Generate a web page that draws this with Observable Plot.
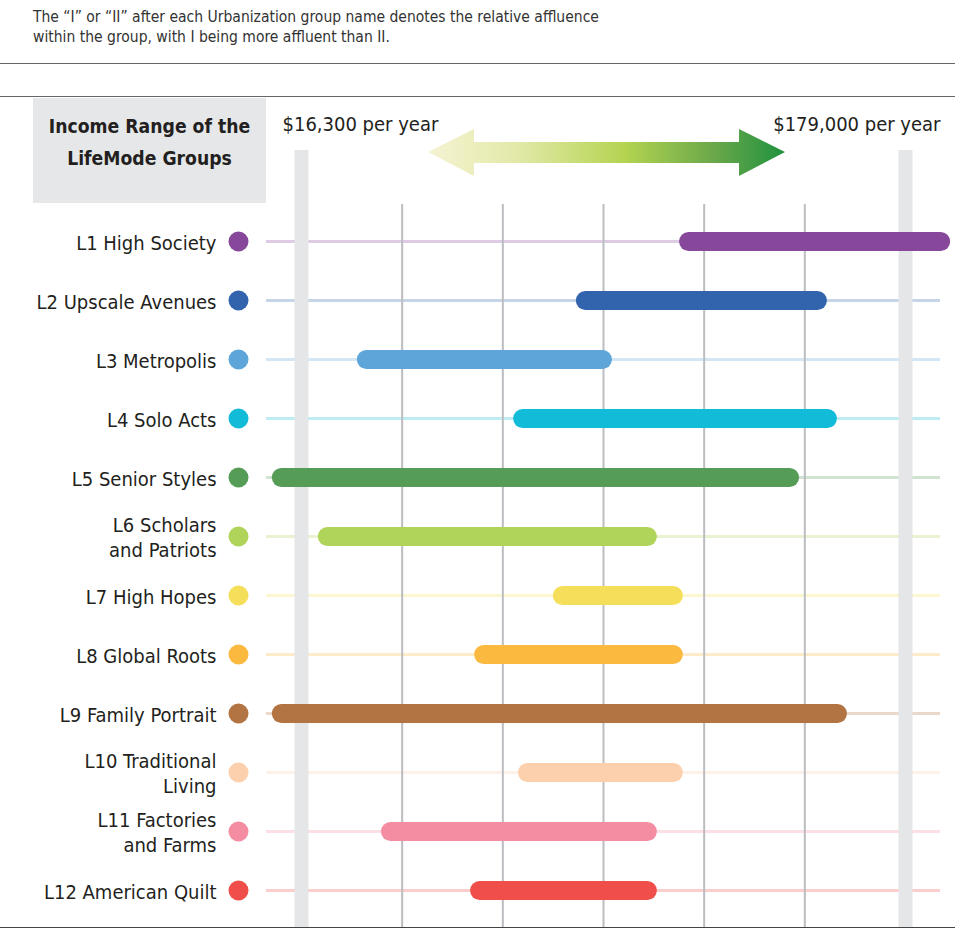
<!DOCTYPE html>
<html><head><meta charset="utf-8">
<script src="https://cdn.jsdelivr.net/npm/d3@7"></script>
<script src="https://cdn.jsdelivr.net/npm/@observablehq/plot@0.6"></script>
<style>
body{margin:0;background:#fff;width:955px;height:950px;position:relative;font-family:"Liberation Sans Narrow","DejaVu Sans Condensed",sans-serif;}
#sub{position:absolute;left:33px;top:7px;font-size:15.5px;line-height:20px;color:#333;}
.rule{position:absolute;left:0;width:955px;height:0;border-top:1.5px solid #666;}
#chart{position:absolute;left:0;top:98px;}
</style></head><body>
<div id="sub">The “I” or “II” after each Urbanization group name denotes the relative affluence<br>within the group, with I being more affluent than II.</div>
<div class="rule" style="top:63px"></div>
<div class="rule" style="top:96px"></div>
<div id="chart"></div>
<div class="rule" style="top:927px;border-color:#444"></div>
<script>
const groups = ["L1 High Society","L2 Upscale Avenues","L3 Metropolis","L4 Solo Acts","L5 Senior Styles","L6 Scholars and Patriots","L7 High Hopes","L8 Global Roots","L9 Family Portrait","L10 Traditional Living","L11 Factories and Farms","L12 American Quilt"];
const labels = ["L1 High Society","L2 Upscale Avenues","L3 Metropolis","L4 Solo Acts","L5 Senior Styles","L6 Scholars\nand Patriots","L7 High Hopes","L8 Global Roots","L9 Family Portrait","L10 Traditional\nLiving","L11 Factories\nand Farms","L12 American Quilt"];
const colors = ["#87489b","#3264ae","#5ea5da","#12bcd9","#559c57","#b0d45a","#f5df5a","#fbb940","#b37443","#fcd0ad","#f48da1","#ef4e4a"];
const low  = [120700, 92900, 33900, 76000, 11000, 23400, 86700, 65500, 11000, 77300, 40400, 64400];
const high = [188600,155400, 97500,158100,147900,109600,116600,116600,160800,116600,109600,109600];
const minIncome = 16300, maxIncome = 179000;
const minLabel = "$16,300 per year", maxLabel = "$179,000 per year";
const headerLabel = "Income Range of the\nLifeMode Groups";

// layout (pixels)
const X0 = 301, X1 = 905, Y0 = 143, STEP = 59, H = 830;
const ppd = (X1 - X0) / (maxIncome - minIncome);
const px2x = px => minIncome + (px - X0) / ppd;
const py2y = py => (py - Y0) / STEP;

const rows = groups.map((g, i) => ({
  i, group: g, label: labels[i], color: colors[i],
  tint: d3.interpolateRgb(colors[i], "#ffffff")(0.72),
  low: low[i], high: high[i]
}));
const grid = d3.range(1, 6).map(k => minIncome + k * (maxIncome - minIncome) / 6);
const font = "'Liberation Sans Narrow','DejaVu Sans Condensed',sans-serif";

const chart = Plot.plot({
  width: 955, height: H, margin: 0,
  x: {domain: [minIncome, maxIncome], range: [X0, X1], axis: null},
  y: {domain: [0, 11], range: [Y0, Y0 + 11 * STEP], axis: null},
  style: {fontFamily: font, background: "transparent", overflow: "visible"},
  marks: [
    Plot.rect([0], {x1: px2x(33), x2: px2x(266), y1: py2y(0), y2: py2y(105), fill: "#e6e7e9"}),
    Plot.ruleY(rows, {y: "i", x1: px2x(266), x2: px2x(940), stroke: "tint", strokeWidth: 3}),
    Plot.ruleX(grid, {y1: py2y(106), y2: py2y(H), stroke: "#bcbdc1", strokeWidth: 2}),
    Plot.ruleX([minIncome, maxIncome], {y1: py2y(52), y2: py2y(H), stroke: "#e5e6e8", strokeWidth: 14}),
    Plot.ruleY(rows, {y: "i", x1: "low", x2: "high", stroke: "color", strokeWidth: 19, strokeLinecap: "round"}),
    Plot.dot(rows, {x: minIncome, y: "i", dx: -63, r: 10, fill: "color", stroke: null}),
    Plot.text(rows, {x: minIncome, y: "i", dx: -85, text: "label", textAnchor: "end", fontSize: 20, lineHeight: 1.25, fill: "#231f20"}),
    Plot.text([headerLabel], {x: px2x(149), y: py2y(40), text: d => d, fontSize: 19.2, fontWeight: "bold", lineHeight: 1.67, fill: "#231f20"}),
    Plot.text([minLabel], {x: px2x(282), y: py2y(26), text: d => d, textAnchor: "start", fontSize: 20, fill: "#231f20"}),
    Plot.text([maxLabel], {x: px2x(940), y: py2y(26), text: d => d, textAnchor: "end", fontSize: 20, fill: "#231f20"})
  ]
});
document.getElementById("chart").appendChild(chart);

// decorative double arrow with gradient
const svg = d3.select(chart);
const defs = svg.append("defs");
const lg = defs.append("linearGradient").attr("id", "arrowGrad").attr("x1", "0%").attr("x2", "100%");
[["0%","#f6f3d3"],["25%","#e2e9a8"],["55%","#b4d451"],["80%","#6aa84a"],["100%","#20923f"]]
  .forEach(([o,c]) => lg.append("stop").attr("offset", o).attr("stop-color", c));
const pts = [[428,54],[474,31],[474,44],[739,44],[739,31],[785,54],[739,78],[739,65],[474,65],[474,78]];
svg.append("polygon").attr("points", pts.map(p => p.join(",")).join(" ")).attr("fill", "url(#arrowGrad)");
</script>
</body></html>
